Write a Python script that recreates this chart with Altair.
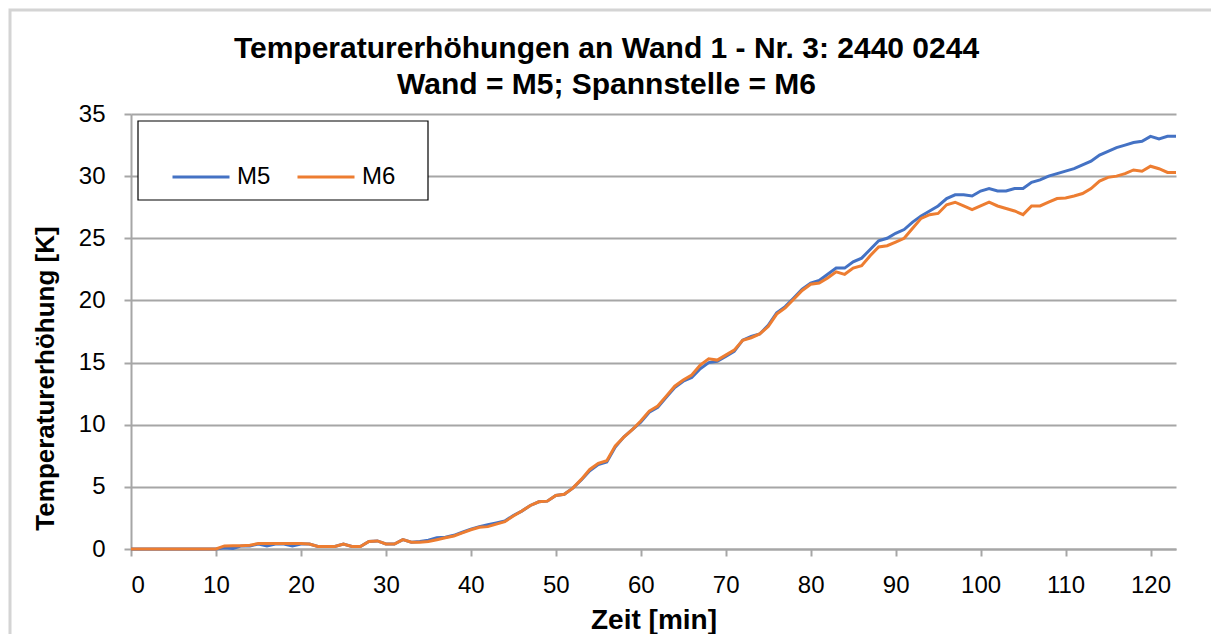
import altair as alt
import pandas as pd

zeit = list(range(0, 124))

m5 = [0, 0, 0, 0, 0, 0, 0, 0, 0, 0, 0,
      0.1, 0.05, 0.25, 0.25, 0.4, 0.25, 0.4, 0.4, 0.25, 0.4,
      0.4, 0.2, 0.2, 0.2, 0.4, 0.2, 0.2, 0.6, 0.65, 0.4,
      0.4, 0.75, 0.55, 0.6, 0.7, 0.9, 0.95, 1.1, 1.35, 1.6,
      1.8, 1.95, 2.1, 2.25, 2.7, 3.05, 3.5, 3.8, 3.85, 4.3,
      4.4, 4.9, 5.55, 6.3, 6.8, 7.0, 8.2, 9.0, 9.6, 10.2,
      11.0, 11.4, 12.2, 13.0, 13.5, 13.8, 14.5, 15.0, 15.1, 15.5,
      15.9, 16.8, 17.1, 17.3, 18.0, 19.0, 19.5, 20.2, 20.9, 21.4,
      21.6, 22.1, 22.6, 22.6, 23.1, 23.4, 24.1, 24.8, 25.0, 25.4,
      25.7, 26.3, 26.8, 27.2, 27.6, 28.2, 28.5, 28.5, 28.4, 28.8,
      29.0, 28.8, 28.8, 29.0, 29.0, 29.5, 29.7, 30.0, 30.2, 30.4,
      30.6, 30.9, 31.2, 31.7, 32.0, 32.3, 32.5, 32.7, 32.8, 33.2,
      33.0, 33.2, 33.2]

m6 = [0, 0, 0, 0, 0, 0, 0, 0, 0, 0, 0,
      0.25, 0.27, 0.27, 0.3, 0.45, 0.45, 0.45, 0.45, 0.45, 0.45,
      0.4, 0.2, 0.2, 0.2, 0.4, 0.2, 0.2, 0.6, 0.65, 0.4,
      0.4, 0.75, 0.55, 0.55, 0.6, 0.75, 0.9, 1.05, 1.3, 1.55,
      1.75, 1.8, 2.0, 2.2, 2.65, 3.05, 3.5, 3.8, 3.85, 4.3,
      4.4, 4.9, 5.6, 6.4, 6.9, 7.1, 8.3, 9.0, 9.6, 10.3,
      11.1, 11.5, 12.3, 13.1, 13.6, 14.0, 14.8, 15.3, 15.2, 15.6,
      16.0, 16.8, 17.0, 17.3, 17.9, 18.9, 19.4, 20.1, 20.8, 21.3,
      21.4, 21.8, 22.3, 22.1, 22.6, 22.8, 23.6, 24.3, 24.4, 24.7,
      25.0, 25.8, 26.6, 26.9, 27.0, 27.7, 27.9, 27.6, 27.3, 27.6,
      27.9, 27.6, 27.4, 27.2, 26.9, 27.6, 27.6, 27.9, 28.2, 28.25,
      28.4, 28.6, 29.0, 29.6, 29.9, 30.0, 30.2, 30.5, 30.4, 30.8,
      30.6, 30.3, 30.3]

series_names = ["M5", "M6"]
series_colors = ["#4472C4", "#ED7D31"]
x_ticks = list(range(0, 121, 10))
y_ticks = list(range(0, 36, 5))

df = pd.DataFrame({
    "Zeit": zeit * 2,
    "Wert": m5 + m6,
    "Reihe": ["M5"] * len(zeit) + ["M6"] * len(zeit),
})

FONT = "Liberation Sans"
one = pd.DataFrame({"a": [0]})

frame = alt.Chart(one).mark_rect(fill=None, stroke="#d4d4d4", strokeWidth=3).encode(
    x=alt.value(-121), x2=alt.value(1085), y=alt.value(-104), y2=alt.value(540)
)

legend_box = alt.Chart(one).mark_rect(fill="white", stroke="black", strokeWidth=1.2).encode(
    x=alt.value(7), x2=alt.value(297), y=alt.value(7), y2=alt.value(86)
)

lines = alt.Chart(df).mark_line(strokeWidth=3).encode(
    x=alt.X("Zeit:Q",
            scale=alt.Scale(domain=[0, 123], nice=False, zero=False),
            axis=alt.Axis(title="Zeit [min]", values=x_ticks, grid=False,
                          titleY=71, titleBaseline="middle", titleFontSize=28)),
    y=alt.Y("Wert:Q",
            scale=alt.Scale(domain=[0, 35], nice=False),
            axis=alt.Axis(title="Temperaturerhöhung [K]", values=y_ticks, grid=True,
                          titleX=-86, titleY=264, titleBaseline="middle", titleAlign="center",
                          titleFontSize=26)),
    color=alt.Color("Reihe:N",
                    scale=alt.Scale(domain=series_names, range=series_colors),
                    legend=alt.Legend(title=None, orient="none", legendX=40, legendY=33,
                                      direction="horizontal", symbolType="stroke",
                                      symbolSize=3249, symbolStrokeWidth=3,
                                      labelFontSize=24, labelFont=FONT, labelOffset=6,
                                      columnPadding=20, labelColor="black")),
)

chart = alt.layer(frame, legend_box, lines).properties(
    width=1045,
    height=435,
    background="white",
    autosize=alt.AutoSizeParams(type="none"),
    padding={"left": 123, "top": 106, "right": 35, "bottom": 85},
    title=alt.TitleParams(
        text=["Temperaturerhöhungen an Wand 1 - Nr. 3: 2440 0244", "Wand = M5; Spannstelle = M6"],
        font=FONT, fontSize=30, fontWeight="bold", color="black",
        anchor="middle", dx=-47, dy=105, lineHeight=36, offset=14,
    ),
).configure_view(stroke=None).configure_axis(
    labelFont=FONT, labelFontSize=24, labelColor="black",
    titleFont=FONT, titleFontWeight="bold", titleColor="black",
    domainColor="#a6a6a6", domainWidth=2, tickColor="#a6a6a6", tickWidth=2,
    gridColor="#a6a6a6", gridWidth=2, tickSize=7,
).configure_axisX(labelPadding=17).configure_axisY(labelPadding=19)

chart.save("out.html", embed_options={"renderer": "svg", "actions": False})
